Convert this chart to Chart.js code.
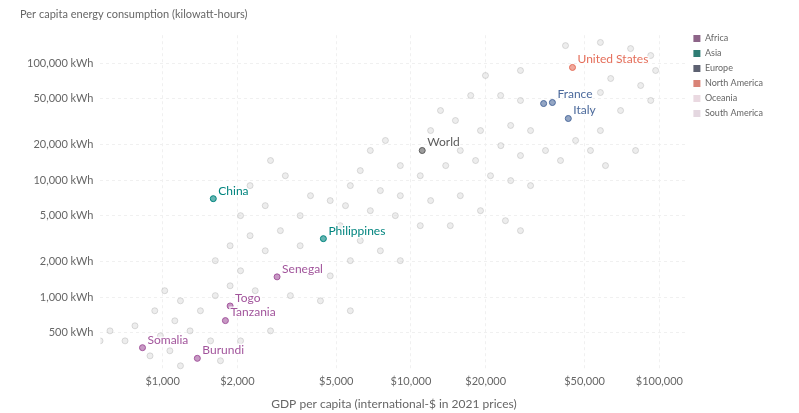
<!DOCTYPE html>
<html>
<head>
<meta charset="utf-8">
<script src="https://cdn.jsdelivr.net/npm/chart.js@4"></script>
<style>
  html, body { margin: 0; padding: 0; background: #fff; }
  #wrap { width: 799px; height: 413px; }
</style>
</head>
<body>
<div id="wrap"><canvas id="myChart"></canvas></div>
<script>
// legend order
var continents = ['Africa', 'Asia', 'Europe', 'North America', 'Oceania', 'South America'];

// highlighted countries
var countries = ['United States', 'France', 'Germany', 'Italy', 'World', 'China', 'Philippines', 'Senegal', 'Togo', 'Tanzania', 'Somalia', 'Burundi'];
var countryRegion = ['North America', 'Europe', 'Europe', 'Europe', 'World', 'Asia', 'Asia', 'Africa', 'Africa', 'Africa', 'Africa', 'Africa'];
var countryGdp = [44700, 37100, 34200, 43000, 11100, 1600, 4440, 2890, 1870, 1790, 830, 1380];
var countryEnergy = [91700, 46000, 45100, 33600, 17900, 6940, 3160, 1490, 840, 630, 370, 300];
var countryLabelShown = [true, true, false, true, true, true, true, true, true, true, true, true];

// the other countries (faded)
var otherGdp = [41900, 57900, 76600, 92300, 96600, 69800, 63700, 84100, 57900, 52800, 69800, 92300, 57900, 80200, 60700, 46000, 52800,
  27600, 19950, 22960, 27600, 17400, 15100, 19050, 25200, 30300, 23000, 27600, 34800, 40000, 13150, 12000, 15800, 13800, 18200,
  20900, 25200, 30300, 10900, 9060, 7890, 6860, 6250, 5700, 7530, 9060, 12000, 15800, 19050, 24000, 27600, 14400, 10900, 8650,
  6860, 5450, 4730, 3940, 3580, 3120, 2720, 2250, 2590, 2980, 3580, 5190, 6250, 7530, 9060, 5700, 4730, 3580, 2590, 2250, 2060,
  1870, 1630, 2060, 2360, 3270, 4320, 5700, 1870, 1630, 1420, 1180, 1020, 930, 1120, 1290, 980, 774, 706, 614, 560, 890, 1070,
  1560, 2060, 2720, 1180, 1710];
var otherEnergy = [141000, 150000, 133000, 116000, 86400, 105000, 73800, 64300, 56000, 39300, 39300, 47900, 26500, 17900, 13300, 21800, 17900,
  86400, 78300, 52800, 47900, 52800, 32300, 26500, 29300, 26500, 19700, 16200, 17900, 14700, 39300, 26500, 17900, 13300, 14700,
  10900, 9900, 8970, 10900, 13300, 21800, 17900, 12050, 8970, 8130, 7360, 6680, 7360, 5480, 4500, 3700, 4080, 4080, 4970,
  5480, 6050, 6680, 7360, 4970, 10900, 14700, 8970, 6050, 3700, 2750, 4080, 3040, 2490, 2050, 2050, 1520, 1680, 2490, 3350, 4970,
  2750, 2050, 1680, 1135, 1030, 930, 765, 1250, 1030, 765, 930, 1135, 765, 628, 515, 467, 569, 423, 515, 423, 315, 348,
  423, 423, 515, 259, 286];

var xTicks = [1000, 2000, 5000, 10000, 20000, 50000, 100000];
var yTicks = [500, 1000, 2000, 5000, 10000, 20000, 50000, 100000];

var regionColors = {
  'Africa': '#a2559c',
  'Asia': '#00847e',
  'Europe': '#4c6a9c',
  'North America': '#e56e5a',
  'Oceania': '#ead9e1',
  'South America': '#e4d7e0',
  'World': '#5b5b5b'
};
var legendColors = ['#8d6488', '#2f7d74', '#5d6171', '#d98377', '#ead9e1', '#e4d7e0'];

function fmt(n) {
  return n.toLocaleString('en-US');
}

var datasets = [];

// one dataset per continent, plus World
continents.concat(['World']).forEach(function (region, ri) {
  var pts = [];
  for (var i = 0; i < countries.length; i++) {
    if (countryRegion[i] == region) {
      pts.push({ x: countryGdp[i], y: countryEnergy[i], name: countries[i], show: countryLabelShown[i] });
    }
  }
  datasets.push({
    label: region,
    data: pts,
    backgroundColor: regionColors[region],
    pointBackgroundColor: regionColors[region] + '99',
    pointBorderColor: regionColors[region],
    borderColor: regionColors[region],
    pointBorderWidth: 1,
    pointRadius: 3,
    order: 0,
    labelColor: regionColors[region]
  });
});

var otherPts = otherGdp.map(function (g, i) { return { x: g, y: otherEnergy[i] }; });
datasets.push({
  label: 'other',
  data: otherPts,
  pointBackgroundColor: 'rgba(210,210,210,0.4)',
  pointBorderColor: 'rgba(185,185,185,0.5)',
  pointBorderWidth: 1,
  pointRadius: 3,
  order: 5
});

// country names next to the highlighted points
var pointLabels = {
  id: 'pointLabels',
  afterDatasetsDraw: function (chart) {
    var ctx = chart.ctx;
    ctx.save();
    ctx.font = '12px Lato';
    ctx.textAlign = 'left';
    ctx.textBaseline = 'middle';
    chart.data.datasets.forEach(function (ds, di) {
      if (!ds.labelColor) return;
      var meta = chart.getDatasetMeta(di);
      ds.data.forEach(function (p, i) {
        if (!p.show) return;
        var el = meta.data[i];
        ctx.lineWidth = 3;
        ctx.strokeStyle = 'rgba(255,255,255,0.8)';
        ctx.strokeText(p.name, el.x + 5, el.y - 8);
        ctx.fillStyle = ds.labelColor;
        ctx.fillText(p.name, el.x + 5, el.y - 8);
      });
    });
    ctx.restore();
  }
};

const ctx = document.getElementById('myChart');
const myChart = new Chart(ctx, {
  type: 'scatter',
  data: { datasets: datasets },
  plugins: [pointLabels],
  options: {
    responsive: true,
    maintainAspectRatio: false,
    animation: false,
    layout: { padding: { left: 20, right: 26, top: 2, bottom: 0 } },
    plugins: {
      title: {
        display: true,
        text: 'Per capita energy consumption (kilowatt-hours)',
        align: 'start',
        color: '#666',
        font: { family: 'Lato', size: 11, weight: 'normal' },
        padding: { top: 6, bottom: 14 }
      },
      legend: {
        position: 'right',
        align: 'start',
        title: { display: true, text: ' ', font: { size: 10 }, padding: { top: 0, bottom: 14 } },
        labels: {
          boxWidth: 7,
          boxHeight: 7,
          padding: 6,
          color: '#555',
          font: { family: 'Lato', size: 9 },
          generateLabels: function (chart) {
            return continents.map(function (c, i) {
              return { text: c, fillStyle: legendColors[i], strokeStyle: legendColors[i], lineWidth: 0, datasetIndex: i, hidden: false };
            });
          }
        }
      },
      tooltip: { enabled: false }
    },
    scales: {
      x: {
        type: 'logarithmic',
        min: 562,
        max: 129700,
        afterBuildTicks: function (axis) { axis.ticks = xTicks.map(function (v) { return { value: v }; }); },
        ticks: {
          color: '#666',
          font: { family: 'Lato', size: 11 },
          maxRotation: 0,
          autoSkip: false,
          callback: function (v) { return '$' + fmt(v); }
        },
        grid: { color: '#f0f0f0', drawTicks: false },
        border: { display: false, dash: [3, 3] },
        title: {
          display: true,
          text: 'GDP per capita (international-$ in 2021 prices)',
          color: '#666',
          font: { family: 'Lato', size: 12 },
          padding: { top: 6, bottom: 2 }
        }
      },
      y: {
        type: 'logarithmic',
        min: 232,
        max: 173000,
        afterBuildTicks: function (axis) { axis.ticks = yTicks.map(function (v) { return { value: v }; }); },
        ticks: {
          color: '#666',
          font: { family: 'Lato', size: 11 },
          padding: 7,
          callback: function (v) { return fmt(v) + ' kWh'; }
        },
        grid: { color: '#f0f0f0', drawTicks: false },
        border: { display: false, dash: [3, 3] }
      }
    }
  }
});
</script>
</body>
</html>
